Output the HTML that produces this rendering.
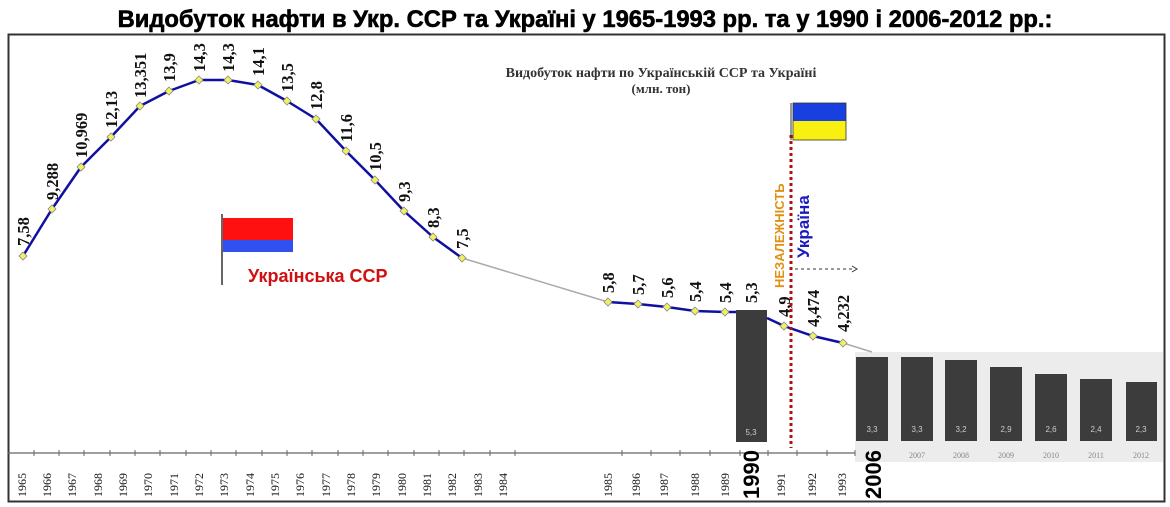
<!DOCTYPE html>
<html><head><meta charset="utf-8"><style>
body{margin:0;background:#fff;width:1170px;height:507px;overflow:hidden}
svg{display:block}
.t{font-family:"Liberation Serif",serif;font-weight:bold;font-size:16.5px;fill:#111}
.y{font-family:"Liberation Serif",serif;font-size:12px;fill:#111}
</style></head><body>
<svg width="1170" height="507" viewBox="0 0 1170 507">
<text x="585" y="27" text-anchor="middle" font-family="Liberation Sans,sans-serif" font-weight="bold" font-size="24" transform="translate(585 0) scale(0.99 1) translate(-585 0)" fill="#000" stroke="#000" stroke-width="0.6">Видобуток нафти в Укр. ССР та Україні у 1965-1993 рр. та у 1990 і 2006-2012 рр.:</text>
<rect x="8.5" y="34.5" width="1156" height="467" fill="none" stroke="#333" stroke-width="2"/>
<text x="661" y="77" text-anchor="middle" font-family="Liberation Serif,serif" font-weight="bold" font-size="14" fill="#333">Видобуток нафти по Українській ССР та Україні</text>
<text x="661" y="93" text-anchor="middle" font-family="Liberation Serif,serif" font-weight="bold" font-size="13" fill="#333">(млн. тон)</text>
<rect x="855" y="352" width="308" height="110" fill="#ececec"/>
<g fill="#3c3c3c">
<rect x="856" y="357" width="32" height="84"/><rect x="901" y="357" width="32" height="84"/><rect x="945" y="360" width="32" height="81"/><rect x="990" y="367" width="32" height="74"/><rect x="1035" y="374" width="32" height="67"/><rect x="1080" y="379" width="32" height="62"/><rect x="1126" y="382" width="31" height="59"/>
<rect x="736" y="310" width="31" height="132"/>
</g>
<g font-family="Liberation Sans,sans-serif" font-size="8" fill="#ccc" text-anchor="middle">
<text x="751" y="435">5,3</text><text x="872" y="432">3,3</text><text x="917" y="432">3,3</text><text x="961" y="432">3,2</text><text x="1006" y="432">2,9</text><text x="1051" y="432">2,6</text><text x="1096" y="432">2,4</text><text x="1141" y="432">2,3</text>
</g>
<g font-family="Liberation Serif,serif" font-size="8" fill="#888" text-anchor="middle">
<text x="917" y="458">2007</text><text x="961" y="458">2008</text><text x="1006" y="458">2009</text><text x="1051" y="458">2010</text><text x="1096" y="458">2011</text><text x="1141" y="458">2012</text>
</g>
<line x1="8" y1="453" x2="855" y2="453" stroke="#666" stroke-width="1.2"/>
<g stroke="#666" stroke-width="1">
<path d="M34 450v6M59 450v6M84 450v6M110 450v6M135 450v6M160 450v6M186 450v6M211 450v6M236 450v6M262 450v6M287 450v6M312 450v6M338 450v6M363 450v6M388 450v6M414 450v6M439 450v6M464 450v6M490 450v6M515 450v6M622 450v6M651 450v6M680 450v6M710 450v6M740 450v6M768 450v6M797 450v6M827 450v6M855 450v6"/>
</g>
<g class="y">
<text transform="translate(26 497) rotate(-90)">1965</text><text transform="translate(51 497) rotate(-90)">1966</text><text transform="translate(76 497) rotate(-90)">1967</text><text transform="translate(102 497) rotate(-90)">1968</text><text transform="translate(127 497) rotate(-90)">1969</text><text transform="translate(152 497) rotate(-90)">1970</text><text transform="translate(178 497) rotate(-90)">1971</text><text transform="translate(203 497) rotate(-90)">1972</text><text transform="translate(228 497) rotate(-90)">1973</text><text transform="translate(254 497) rotate(-90)">1974</text><text transform="translate(279 497) rotate(-90)">1975</text><text transform="translate(304 497) rotate(-90)">1976</text><text transform="translate(330 497) rotate(-90)">1977</text><text transform="translate(355 497) rotate(-90)">1978</text><text transform="translate(380 497) rotate(-90)">1979</text><text transform="translate(406 497) rotate(-90)">1980</text><text transform="translate(431 497) rotate(-90)">1981</text><text transform="translate(456 497) rotate(-90)">1982</text><text transform="translate(482 497) rotate(-90)">1983</text><text transform="translate(507 497) rotate(-90)">1984</text>
<text transform="translate(612 497) rotate(-90)">1985</text><text transform="translate(640 497) rotate(-90)">1986</text><text transform="translate(668 497) rotate(-90)">1987</text><text transform="translate(699 497) rotate(-90)">1988</text><text transform="translate(729 497) rotate(-90)">1989</text>
<text transform="translate(785 497) rotate(-90)">1991</text><text transform="translate(816 497) rotate(-90)">1992</text><text transform="translate(846 497) rotate(-90)">1993</text>
</g>
<g font-family="Liberation Sans,sans-serif" font-weight="bold" font-size="22" fill="#000">
<text transform="translate(759 499) rotate(-90)">1990</text>
<text transform="translate(881 499) rotate(-90)">2006</text>
</g>
<path d="M462 258L608 302M843 343L872 352" stroke="#aaa" stroke-width="1.5" fill="none"/>
<polyline points="23,256 52,209 81,167 111,137 140,106 169,91 199,80 228,80 258,85 287,101 316,119 346,151 375,180 404,211 433,237 462,258" fill="none" stroke="#1010a0" stroke-width="2.5" stroke-linejoin="round"/>
<polyline points="608,302 638,304 667,307 695,311 725,312 736,312" fill="none" stroke="#1010a0" stroke-width="2.5"/>
<polyline points="767,318 784,326 813,336 843,343" fill="none" stroke="#1010a0" stroke-width="2.5"/>
<g fill="#f0f060" stroke="#888" stroke-width="0.8">
<path d="M23 252l4 4-4 4-4-4z"/><path d="M52 205l4 4-4 4-4-4z"/><path d="M81 163l4 4-4 4-4-4z"/><path d="M111 133l4 4-4 4-4-4z"/><path d="M140 102l4 4-4 4-4-4z"/><path d="M169 87l4 4-4 4-4-4z"/><path d="M199 76l4 4-4 4-4-4z"/><path d="M228 76l4 4-4 4-4-4z"/><path d="M258 81l4 4-4 4-4-4z"/><path d="M287 97l4 4-4 4-4-4z"/><path d="M316 115l4 4-4 4-4-4z"/><path d="M346 147l4 4-4 4-4-4z"/><path d="M375 176l4 4-4 4-4-4z"/><path d="M404 207l4 4-4 4-4-4z"/><path d="M433 233l4 4-4 4-4-4z"/><path d="M462 254l4 4-4 4-4-4z"/>
<path d="M608 298l4 4-4 4-4-4z"/><path d="M638 300l4 4-4 4-4-4z"/><path d="M667 303l4 4-4 4-4-4z"/><path d="M695 307l4 4-4 4-4-4z"/><path d="M725 308l4 4-4 4-4-4z"/><path d="M784 322l4 4-4 4-4-4z"/><path d="M813 332l4 4-4 4-4-4z"/><path d="M843 339l4 4-4 4-4-4z"/>
</g>
<g class="t">
<text transform="translate(29 246) rotate(-90)">7,58</text><text transform="translate(58 200) rotate(-90)">9,288</text><text transform="translate(87 158) rotate(-90)">10,969</text><text transform="translate(117 128) rotate(-90)">12,13</text><text transform="translate(146 98) rotate(-90)">13,351</text><text transform="translate(175 82) rotate(-90)">13,9</text><text transform="translate(205 72) rotate(-90)">14,3</text><text transform="translate(234 72) rotate(-90)">14,3</text><text transform="translate(264 76) rotate(-90)">14,1</text><text transform="translate(293 92) rotate(-90)">13,5</text><text transform="translate(322 110) rotate(-90)">12,8</text><text transform="translate(352 142) rotate(-90)">11,6</text><text transform="translate(381 171) rotate(-90)">10,5</text><text transform="translate(410 202) rotate(-90)">9,3</text><text transform="translate(439 228) rotate(-90)">8,3</text><text transform="translate(468 249) rotate(-90)">7,5</text>
<text transform="translate(614 293) rotate(-90)">5,8</text><text transform="translate(644 295) rotate(-90)">5,7</text><text transform="translate(673 298) rotate(-90)">5,6</text><text transform="translate(701 302) rotate(-90)">5,4</text><text transform="translate(731 303) rotate(-90)">5,4</text><text transform="translate(757 303) rotate(-90)">5,3</text><text transform="translate(790 317) rotate(-90)">4,9</text><text transform="translate(819 327) rotate(-90)">4,474</text><text transform="translate(849 332) rotate(-90)">4,232</text>
</g>
<line x1="222" y1="214" x2="222" y2="285" stroke="#333" stroke-width="1.5"/>
<rect x="223" y="218" width="70" height="22" fill="#ff1010"/>
<rect x="223" y="240" width="70" height="12" fill="#3050f0"/>
<text x="248" y="282" font-family="Liberation Sans,sans-serif" font-weight="bold" font-size="18" fill="#d01010">Українська ССР</text>
<line x1="791" y1="135" x2="791" y2="448" stroke="#b01010" stroke-width="3" stroke-dasharray="3 3"/>
<line x1="791" y1="103" x2="791" y2="140" stroke="#333" stroke-width="1"/>
<rect x="793" y="103" width="53" height="18" fill="#1840e0"/>
<rect x="793" y="121" width="53" height="19" fill="#f8f010"/>
<rect x="793" y="103" width="53" height="37" fill="none" stroke="#333" stroke-width="0.8"/>
<text transform="translate(784 288) rotate(-90)" font-family="Liberation Sans,sans-serif" font-weight="bold" font-size="13" fill="#e09010">НЕЗАЛЕЖНІСТЬ</text>
<text transform="translate(809 258) rotate(-90)" font-family="Liberation Sans,sans-serif" font-weight="bold" font-size="17" fill="#1a1ac0">Україна</text>
<line x1="795" y1="269" x2="853" y2="269" stroke="#333" stroke-width="1" stroke-dasharray="3 3"/>
<path d="M852 266l5 3-5 3" fill="none" stroke="#333"/>
</svg>
</body></html>
